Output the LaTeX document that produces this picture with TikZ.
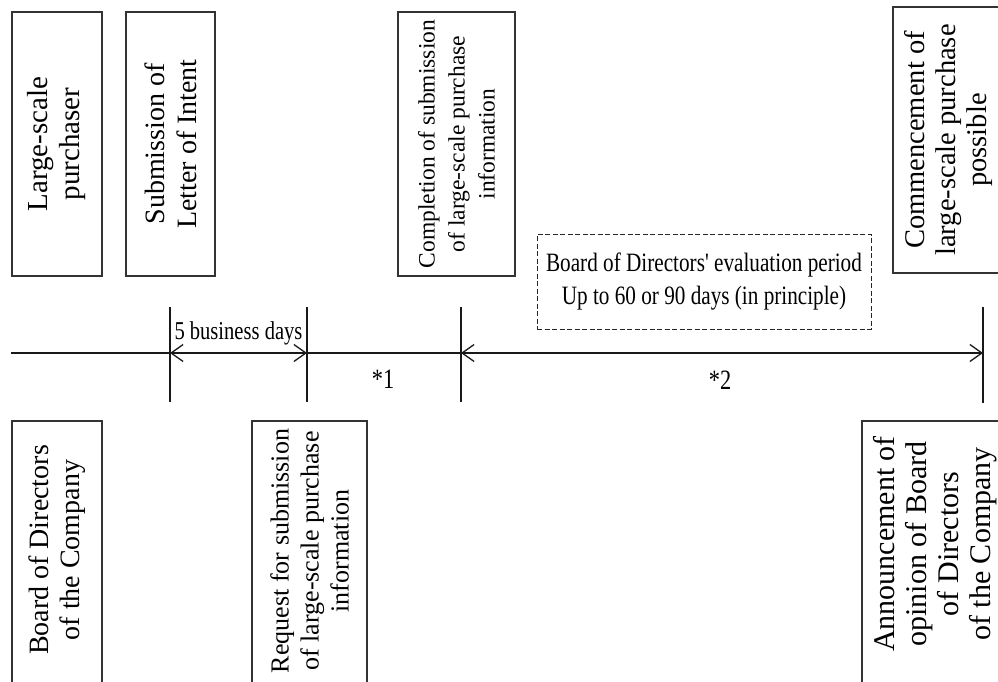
\documentclass[tikz,border=0pt]{standalone}
\usepackage{fontspec}
\setmainfont{Liberation Serif}
\newfontfamily\condfont[FakeStretch=0.8]{Liberation Serif}
\usetikzlibrary{arrows.meta}
\tikzset{
  vbox/.style={draw=black!80, line width=1.6pt, rectangle, rotate=90, align=center, inner sep=0pt},
  vtext/.style={rotate=90, align=center, inner sep=0pt},
  dbox/.style={draw=black!85, line width=1pt, dashed, dash pattern=on 5pt off 2.5pt, rectangle, align=center, inner sep=0pt},
  tline/.style={line width=1.3pt, black!90},
  tick/.style={line width=1.3pt, black!90},
  period/.style={tline, {Straight Barb[length=12pt,width=17pt,line width=1.3pt]}-{Straight Barb[length=12pt,width=17pt,line width=1.3pt]}},
  hlabel/.style={inner sep=0pt, font=\condfont\fontsize{26}{33}\selectfont, align=center}
}
\begin{document}
\begin{tikzpicture}[x=1pt,y=-1pt]
\clip (0,0) rectangle (998,682);
\useasboundingbox (0,0) rectangle (998,682);

% top boxes
\node[vbox, minimum width=264pt, minimum height=90pt, font=\fontsize{29}{32}\selectfont] (purch) at (57,144) {Large-scale\\purchaser};
\node[vbox, minimum width=264pt, minimum height=89pt, font=\fontsize{28}{32}\selectfont] (loi) at (170.5,144) {Submission of\\Letter of Intent};
\node[vbox, minimum width=264pt, minimum height=117pt, font=\fontsize{23.5}{30}\selectfont] (compl) at (456.5,144) {Completion of submission\\of large-scale purchase\\information};
\node[vbox, minimum width=266pt, minimum height=110pt, font=\fontsize{28.5}{31}\selectfont] (comm) at (948,140) {Commencement of\\large-scale purchase\\possible};

% bottom boxes (they run past the lower edge)
\node[vbox, minimum width=279pt, minimum height=90pt] (boardbox) at (57,560.5) {};
\node[vtext, font=\fontsize{28}{31}\selectfont] (board) at (57,550) {Board of Directors\\of the Company};
\node[vbox, minimum width=279pt, minimum height=115pt] (reqbox) at (309.5,560.5) {};
\node[vtext, font=\fontsize{26}{30}\selectfont] (req) at (309.5,551) {Request for submission\\of large-scale purchase\\information};
\node[vbox, minimum width=279pt, minimum height=146pt] (annbox) at (935,560.5) {};
\node[vtext, font=\fontsize{30}{32}\selectfont] (ann) at (935,544) {Announcement of\\opinion of Board\\of Directors\\of the Company};

% dashed box
\node[dbox, minimum width=334pt, minimum height=95pt, font=\condfont\fontsize{26.5}{33}\selectfont] (eval) at (704,281.5) {Board of Directors' evaluation period\\Up to 60 or 90 days (in principle)};

% timeline
\coordinate (L) at (11,353);
\coordinate (A) at (170,353);
\coordinate (B) at (307,353);
\coordinate (C) at (461,353);
\coordinate (D) at (983,353);
\coordinate (At) at (170,307); \coordinate (Ab) at (170,402);
\coordinate (Bt) at (307,307); \coordinate (Bb) at (307,402);
\coordinate (Ct) at (461,307); \coordinate (Cb) at (461,402);
\coordinate (Dt) at (983,307); \coordinate (Db) at (983,403);

\draw[tick] (At) -- (Ab);
\draw[tick] (Bt) -- (Bb);
\draw[tick] (Ct) -- (Cb);
\draw[tick] (Dt) -- (Db);

\draw[tline] (L) -- (A);
\draw[period] (A) -- (B);
\draw[tline] (B) -- (C);
\draw[period] (C) -- (D);

\node[hlabel, font=\condfont\fontsize{25.7}{30}\selectfont] (bd) at (238.5,333) {5 business days};
\node[hlabel, font=\condfont\fontsize{28}{30}\selectfont] (s1) at (383,379) {*1};
\node[hlabel, font=\condfont\fontsize{28}{30}\selectfont] (s2) at (720,380) {*2};
\end{tikzpicture}
\end{document}
